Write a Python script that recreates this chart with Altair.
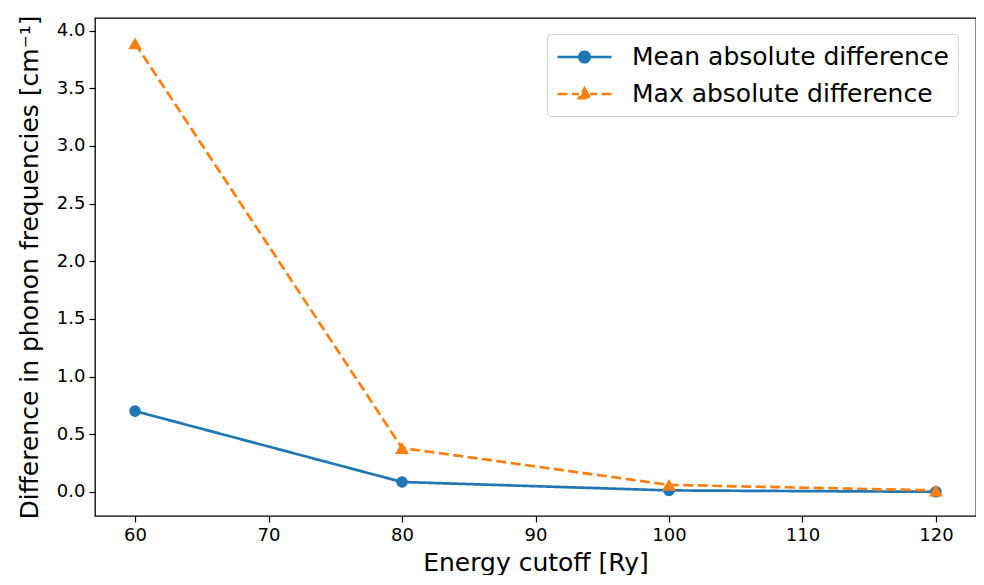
import altair as alt
import pandas as pd

cutoff = [60, 80, 100, 120]
mean_diff = [0.70, 0.085, 0.012, 0.0]
max_diff = [3.89, 0.38, 0.06, 0.012]
series_names = ["Mean absolute difference", "Max absolute difference"]
colors = ["#1f77b4", "#ff7f0e"]
x_ticks = [60, 70, 80, 90, 100, 110, 120]
y_ticks = [0.0, 0.5, 1.0, 1.5, 2.0, 2.5, 3.0, 3.5, 4.0]

rows = []
for c, m in zip(cutoff, mean_diff):
    rows.append({"cutoff": c, "value": m, "series": series_names[0]})
for c, m in zip(cutoff, max_diff):
    rows.append({"cutoff": c, "value": m, "series": series_names[1]})
df = pd.DataFrame(rows)

FONT = "DejaVu Sans"

x = alt.X("cutoff:Q",
          scale=alt.Scale(domain=[57, 123], nice=False, zero=False),
          axis=alt.Axis(title="Energy cutoff [Ry]", values=x_ticks, format="d"))
y = alt.Y("value:Q",
          scale=alt.Scale(domain=[-0.21, 4.11], nice=False, zero=False),
          axis=alt.Axis(title="Difference in phonon frequencies [cm⁻¹]", values=y_ticks, format=".1f"))
color_scale = alt.Scale(domain=series_names, range=colors)

# legend glyphs: line segment with marker in the middle (symbol unit = 12.5 px)
mean_path = "M-1,0H3.32M0.74,0A0.42,0.42 0 1,0 1.58,0A0.42,0.42 0 1,0 0.74,0Z"
max_path = ("M-1,0H-0.2M0.16,0H0.72M1.6,0H2.16M2.52,0H3.32"
            "M1.16,-0.44L1.6,0.34L0.72,0.34Z")

legend = alt.Legend(title=None, orient="none", legendX=452, legendY=16,
                    labelFontSize=25, labelFont=FONT, labelColor="black", labelLimit=0,
                    symbolSize=625, symbolStrokeWidth=2.7, symbolOpacity=1,
                    padding=9, fillColor="white", strokeColor="#d0d0d0",
                    cornerRadius=4, rowPadding=10, labelOffset=48)

# legend-only layer (no marks drawn), placed first so its legend settings win
legend_layer = alt.Chart(df).transform_filter("false").mark_point(
    filled=True, size=625, opacity=1).encode(
    x=x, y=y,
    color=alt.Color("series:N", scale=color_scale, legend=legend),
    stroke=alt.Stroke("series:N", scale=color_scale, legend=legend),
    shape=alt.Shape("series:N", scale=alt.Scale(domain=series_names, range=[mean_path, max_path]),
                    legend=legend),
)

lines = alt.Chart(df).mark_line(strokeWidth=2.7).encode(
    x=x, y=y,
    color=alt.Color("series:N", scale=color_scale),
    strokeDash=alt.StrokeDash("series:N",
                              scale=alt.Scale(domain=series_names, range=[[1, 0], [10, 4.5]]),
                              legend=None),
)

pts_mean = alt.Chart(df).transform_filter(alt.datum.series == series_names[0]).mark_point(
    shape="circle", filled=True, size=135, opacity=1).encode(
    x=x, y=y, color=alt.Color("series:N", scale=color_scale))

pts_max = alt.Chart(df).transform_filter(alt.datum.series == series_names[1]).mark_point(
    shape="triangle-up", filled=True, size=190, opacity=1).encode(
    x=x, y=y, color=alt.Color("series:N", scale=color_scale))

chart = alt.layer(legend_layer, lines, pts_mean, pts_max).properties(
    width=881, height=498,
    autosize=alt.AutoSizeParams(type="none"),
    padding={"left": 87, "top": 10, "right": 0, "bottom": 59},
).configure_view(stroke="black", strokeWidth=1.3).configure_axis(
    grid=False, domain=False,
    labelFont=FONT, titleFont=FONT,
    labelFontSize=18, titleFontSize=25,
    labelColor="black", titleColor="black", titleFontWeight="normal",
    tickSize=6, tickColor="black", tickWidth=1.2, labelPadding=4,
).configure_axisY(titlePadding=14).configure_axisX(titlePadding=6)

chart.save("out.html", embed_options={"renderer": "svg", "actions": False})
